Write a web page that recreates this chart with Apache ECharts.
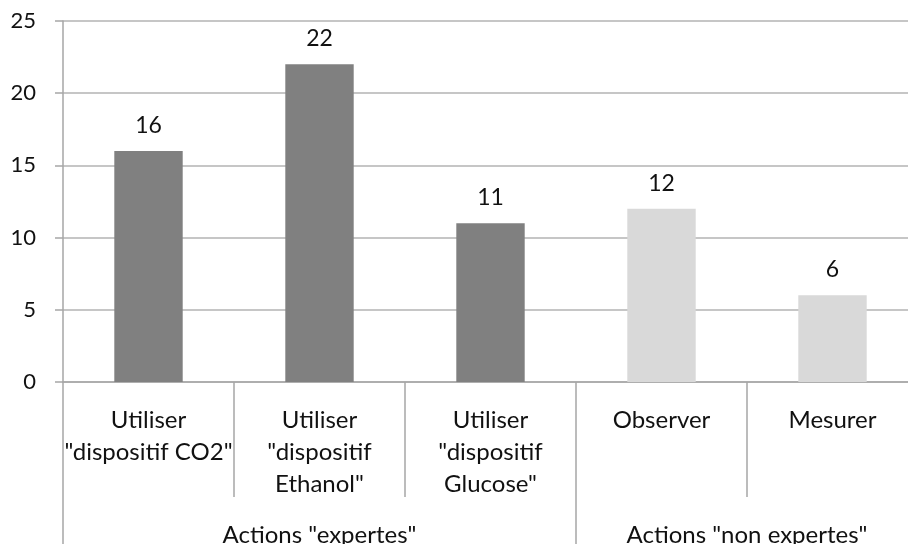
<!DOCTYPE html>
<html>
<head>
<meta charset="utf-8">
<script src="https://cdn.jsdelivr.net/npm/echarts@6/dist/echarts.min.js"></script>
<style>
  html, body { margin: 0; padding: 0; background: #fff; }
  #chart { width: 908px; height: 544px; }
</style>
</head>
<body>
<div id="chart"></div>
<script>
// Action categories (line breaks as printed under each bar)
const categories = [
  'Utiliser\n"dispositif CO2"',
  'Utiliser\n"dispositif\nEthanol"',
  'Utiliser\n"dispositif\nGlucose"',
  'Observer',
  'Mesurer'
];
const counts = [16, 22, 11, 12, 6];
// Group index of each category: 0 = expert actions, 1 = non-expert actions
const groupOf = [0, 0, 0, 1, 1];
const groupNames = ['Actions "expertes"', 'Actions "non expertes"'];
// Group spans in category units along the axis: [start, end]
const groupSpans = [[0, 3], [3, 5]];
const groupColors = ['#808080', '#d9d9d9'];
const yTicks = [0, 5, 10, 15, 20, 25];

const FONT = 'Lato';
const AXIS_GRAY = '#a6a6a6';

const chart = echarts.init(document.getElementById('chart'), null, { renderer: 'canvas' });

const barData = counts.map((v, i) => ({
  value: v,
  itemStyle: { color: groupColors[groupOf[i]] }
}));

const groupCenters = groupSpans.map(s => (s[0] + s[1]) / 2);
const groupBounds = groupSpans.map(s => s[0]);

chart.setOption({
  animation: false,
  backgroundColor: '#fff',
  grid: {
    left: 63, top: 21, width: 855, height: 361,
    containLabel: false, outerBoundsMode: 'none'
  },
  xAxis: [
    {
      type: 'category',
      data: categories,
      position: 'bottom',
      axisLine: { show: true, lineStyle: { color: AXIS_GRAY, width: 1.5 } },
      axisTick: {
        show: true, interval: 0, length: 115, alignWithLabel: false,
        lineStyle: { color: AXIS_GRAY, width: 1.5 }
      },
      axisLabel: {
        interval: 0, margin: 22, color: '#111',
        fontFamily: FONT, fontSize: 24, lineHeight: 32,
        verticalAlign: 'top'
      },
      splitLine: { show: false }
    },
    {
      type: 'value',
      min: 0, max: categories.length,
      position: 'bottom',
      offset: 115,
      axisLine: { show: false },
      axisTick: {
        show: true, length: 70, customValues: groupBounds,
        lineStyle: { color: AXIS_GRAY, width: 1.5 }
      },
      axisLabel: {
        show: true, customValues: groupCenters, margin: 26,
        color: '#111', fontFamily: FONT, fontSize: 24,
        formatter: v => groupNames[groupCenters.indexOf(v)] || ''
      },
      splitLine: { show: false }
    }
  ],
  yAxis: {
    type: 'value',
    min: yTicks[0], max: yTicks[yTicks.length - 1], interval: 5,
    axisLine: { show: true, lineStyle: { color: AXIS_GRAY, width: 1.5 } },
    axisTick: { show: true, length: 8, lineStyle: { color: AXIS_GRAY, width: 1.5 } },
    axisLabel: { margin: 27, color: '#111', fontFamily: FONT, fontSize: 22 },
    splitLine: { show: true, lineStyle: { color: '#b3b3b3', width: 1.5 } }
  },
  series: [{
    type: 'bar',
    xAxisIndex: 0,
    data: barData,
    barWidth: '40%',
    label: {
      show: true, position: 'top', distance: 14,
      color: '#111', fontFamily: FONT, fontSize: 23
    }
  }]
});
</script>
</body>
</html>
